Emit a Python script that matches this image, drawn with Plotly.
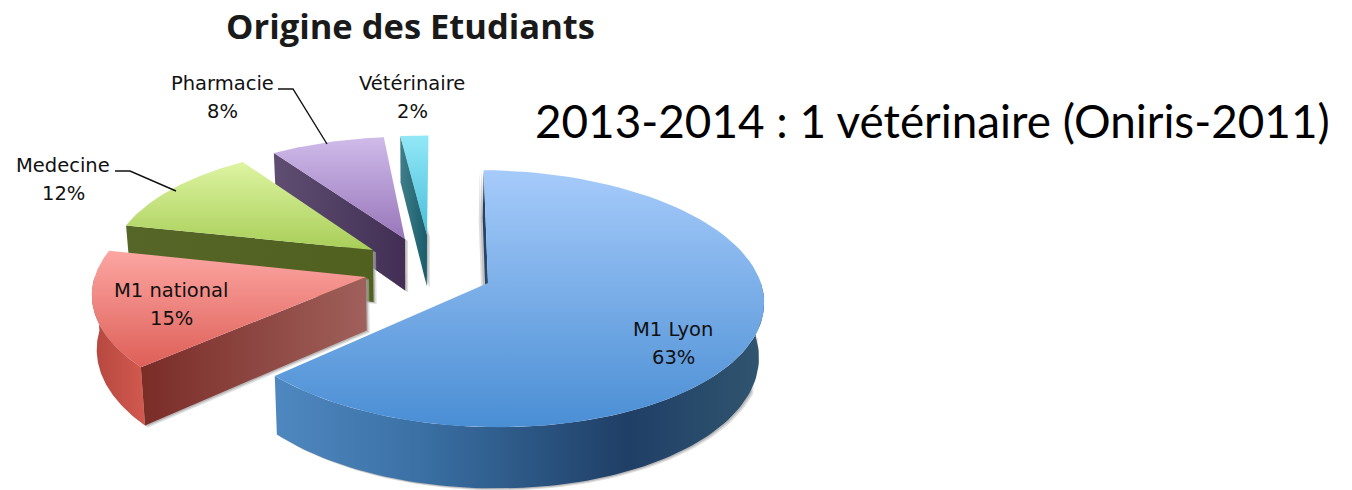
import numpy as np
import plotly.graph_objects as go

# --- data -------------------------------------------------------------
labels = ["M1 Lyon", "M1 national", "Medecine", "Pharmacie", "Vétérinaire"]
values = [63, 15, 12, 8, 2]
chart_title = "Origine des Etudiants"
side_note = "2013-2014 : 1 vétérinaire (Oniris-2011)"

# --- projection of the tilted pie (pixel-valued axes) -----------------
VX, VY, A, B, K = 415.0, 268.0, 123.0, 269.0, 0.12
DEPTH, SHRINK = 53.0, 0.985

STYLE = {
    "M1 Lyon": dict(apex=(488, 283), rad=1.0, rot=0.015, top=("#4A8ED4", "#A6CBFA"), cut=("#1F3F63", "#2A4E72"),
                    wall=[(0, "#4F88C0"), (0.3, "#3A70A4"), (0.72, "#1F3F66"), (1, "#31556F")],
                    lab=(673, 329, 673, 357)),
    "M1 national": dict(apex=(366, 277), rad=1.0, rot=0.029, top=("#DE5F58", "#FCA6A2"), cut=("#7A2C27", "#A0605B"),
                        wall=[(0, "#B4473F"), (1, "#D2594F")],
                        lab=(171, 290, 171, 318)),
    "Medecine": dict(apex=(373, 250), rad=0.985, rot=0.029, top=("#A8CE58", "#DEF4A2"), cut=("#566628", "#50601F"),
                     wall=[(0, "#566628"), (1, "#566628")],
                     lab=(63, 165, 63, 193)),
    "Pharmacie": dict(apex=(405, 239), rad=0.98, rot=0.029, top=("#9876BA", "#CFBBEA"), cut=("#5F4E72", "#422E54"),
                      wall=[(0, "#5F4E72"), (1, "#422E54")],
                      lab=(222, 83, 222, 111)),
    "Vétérinaire": dict(apex=(427, 235), rad=0.96, rot=0.012, top=("#4ABEDB", "#92E8F6"), cut=("#3F7F8A", "#1A5C6C"),
                        wall=[(0, "#3F7F8A"), (1, "#1A5C6C")],
                        lab=(412, 83, 412, 111)),
}


def offset_of(apex):
    q = (VY - apex[1]) / A
    y0 = q / (1 - K * q)
    x0 = (apex[0] - VX) * (1 + K * y0) / B
    return x0, y0


def project(x, y, bottom=False):
    w = 1 / (1 + K * y)
    sx, sy = VX + B * x * w, VY - A * y * w
    if bottom:
        sx = VX + (sx - VX) * SHRINK
        sy = sy + DEPTH * w
    return sx, sy


def scale(stops):
    return [[p, c] for p, c in stops]


fig = go.Figure()


def poly(xs, ys, kind, colors, name):
    if kind == "flat":
        fig.add_trace(go.Scatter(x=xs, y=ys, mode="lines", fill="toself", fillcolor=colors,
                                 line=dict(width=0), hoverinfo="skip", showlegend=False, name=name))
    else:
        fig.add_trace(go.Scatter(x=xs, y=ys, mode="lines", fill="toself",
                                 fillgradient=dict(type=kind, colorscale=colors),
                                 line=dict(width=0), hoverinfo="skip", showlegend=False, name=name))


fractions = np.array(values) / sum(values)
starts = np.concatenate([[0], np.cumsum(fractions)[:-1]]) * 2 * np.pi
ends = np.cumsum(fractions) * 2 * np.pi

for i in reversed(range(len(labels))):
    st = STYLE[labels[i]]
    x0, y0 = offset_of(st["apex"])
    r = st["rad"]
    a0, a1 = starts[i] + st["rot"], ends[i] + st["rot"]
    th = np.linspace(a0, a1, 90)
    X, Y = x0 + r * np.sin(th), y0 + r * np.cos(th)

    # cut face along the slice's starting edge
    tx0, ty0 = project(x0, y0)
    cx, cy = x0 + r * np.sin(a0), y0 + r * np.cos(a0)
    ax_, ay_ = project(cx, cy)
    bx0, by0 = project(x0, y0, True)
    bx1, by1 = project(cx, cy, True)

    # outer rim, front facing part only
    lo, hi = max(a0, np.pi / 2), min(a1, 3 * np.pi / 2)
    rim = shadow_rim = None
    if hi > lo:
        tr = np.linspace(lo, hi, 90)
        rX, rY = x0 + r * np.sin(tr), y0 + r * np.cos(tr)
        ux, uy = project(rX, rY)
        dx, dy = project(rX, rY, True)
        rim = (np.r_[ux, dx[::-1], ux[0]], np.r_[uy, dy[::-1], uy[0]])
        keep = tr > 1.95
        shadow_rim = (np.r_[ux[keep], dx[keep][::-1], ux[keep][0]],
                      np.r_[uy[keep], dy[keep][::-1], uy[keep][0]])

    cut_x = [tx0, ax_, bx1, bx0, tx0]
    cut_y = [ty0, ay_, by1, by0, ty0]
    # soft contact shadow (the far edge of the largest slice throws it to the left)
    sdx = -4 if i == 0 else 3
    poly(np.array(cut_x) + sdx, np.array(cut_y) + 2, "flat", "rgba(190,190,190,0.5)", "shadow")
    poly(np.array(cut_x) + sdx / 2, np.array(cut_y) + 1, "flat", "rgba(160,160,160,0.6)", "shadow")
    if shadow_rim is not None:
        poly(shadow_rim[0] + 3, shadow_rim[1] + 2, "flat", "rgba(190,190,190,0.5)", "shadow")
        poly(shadow_rim[0] + 1.5, shadow_rim[1] + 1, "flat", "rgba(160,160,160,0.6)", "shadow")

    poly(cut_x, cut_y, "horizontal", [[0, st["cut"][0]], [1, st["cut"][1]]], labels[i] + " cut")
    if rim is not None:
        poly(rim[0], rim[1], "horizontal", scale(st["wall"]), labels[i] + " rim")

    # top face
    fx, fy = project(X, Y)
    poly(np.r_[tx0, fx, tx0], np.r_[ty0, fy, ty0], "vertical",
         [[0, st["top"][0]], [1, st["top"][1]]], labels[i])

FONT = "DejaVu Sans"
for name, val in zip(labels, values):
    lx, ly, px, py = STYLE[name]["lab"]
    fig.add_annotation(x=lx, y=ly, text=name, showarrow=False, xanchor="center", yanchor="middle",
                       font=dict(family=FONT, size=19.5, color="#111111"))
    fig.add_annotation(x=px, y=py, text=f"{val}%", showarrow=False, xanchor="center", yanchor="middle",
                       font=dict(family=FONT, size=19.5, color="#111111"))

fig.add_annotation(x=410, y=25, text=f"<b>{chart_title}</b>", showarrow=False, xanchor="center",
                   yanchor="middle", font=dict(family="Open Sans", size=34.5, color="#1a1a1a"))
fig.add_annotation(x=932, y=120, text=side_note, showarrow=False, xanchor="center", yanchor="middle",
                   font=dict(family="Lato", size=45.8, color="#000000"))

leaders = ["M 278 89 L 293 89 L 327 144", "M 115 171 L 130 171 L 176 191"]
shapes = [dict(type="path", path=p, xref="x", yref="y", line=dict(color="#111111", width=1.4)) for p in leaders]

fig.update_layout(
    width=1352, height=490, autosize=False, margin=dict(l=0, r=0, t=0, b=0),
    paper_bgcolor="white", plot_bgcolor="white", showlegend=False, shapes=shapes,
    xaxis=dict(range=[0, 1352], visible=False, fixedrange=True),
    yaxis=dict(range=[490, 0], visible=False, fixedrange=True),
)
fig.write_html("out.html", config=dict(displayModeBar=False),
               post_script="document.body.style.margin='0';document.body.style.overflow='hidden';")
